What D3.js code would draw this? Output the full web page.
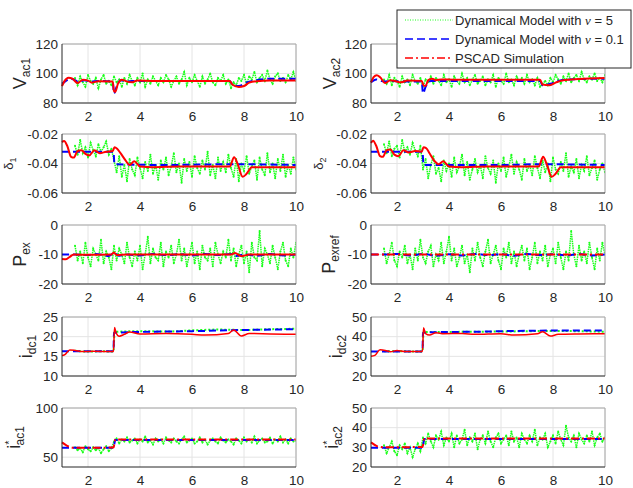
<!DOCTYPE html>
<html lang="en">
<head>
<meta charset="UTF-8">
<title>Dynamical model vs PSCAD</title>
<script src="https://d3js.org/d3.v7.min.js"></script>
<style>
  body { margin: 0; background: #fff; }
  svg { display: block; font-family: "Liberation Sans", Arial, sans-serif; }
  .tick text { font-size: 13.5px; fill: #262626; }
  .grid line { stroke: #e4e4e4; stroke-width: 1; }
</style>
</head>
<body>
<svg width="633" height="488"></svg>
<script>
// time grid of the noisy (nu = 5) model output, 1.5 s .. 10 s
const tGreen = d3.range(15, 101).map(i => i / 10);

// ---- V_ac1 ----
const vac1Green = [97,92,98,94,91,99,95,93,97,90,96,99,93,95,92,98,94,96,91,97,
  93,99,95,92,97,94,100,91,96,93,98,95,92,97,94,99,96,91,95,98,
  93,96,101,92,97,94,99,95,91,98,93,96,100,94,92,97,95,99,93,96,
  90,94,92,97,95,99,93,98,96,101,94,97,99,95,102,96,93,98,100,95,
  97,94,99,96,101,95];
const vac1Blue = [[1,93],[1.15,95],[1.3,96.5],[1.5,95.5],[1.65,94],[1.85,95.5],[2.1,94.5],[2.4,95],[2.95,94.5],
  [3.0,86.5],[3.1,91],[3.25,95.5],[3.5,94.5],[3.7,95],[4,95],[7.45,95],[7.55,92.5],[7.8,91.5],[8.1,94],
  [8.5,95.5],[9,96.5],[10,96.5]];
const vac1Red = [[1,91.5],[1.1,95],[1.25,97.2],[1.4,96.5],[1.6,93.5],[1.8,95.8],[2.0,95.2],[2.15,93.8],[2.4,94.8],
  [2.95,94.5],[3.0,88],[3.05,87.5],[3.15,93],[3.3,95.8],[3.5,94.5],[3.7,94],[3.9,95.2],[4.5,95],[7.45,95],
  [7.55,92.5],[7.8,90.8],[8.0,91.5],[8.2,93.8],[8.5,94.8],[9,95.2],[10,95.3]];

// ---- V_ac2 ----
const vac2Green = [96,93,99,92,97,95,91,98,94,96,92,99,95,93,97,91,96,94,98,93,
  97,95,92,99,94,96,91,98,95,93,100,94,97,92,96,99,93,95,98,92,
  96,94,99,91,97,95,93,100,94,96,92,98,95,97,93,99,94,96,92,97,
  91,93,95,92,97,94,99,96,93,98,95,100,94,97,99,95,101,96,94,98,
  96,100,95,97,94,99];
const vac2Blue = [[1,94],[1.2,96],[1.5,94.5],[1.8,95],[2.2,94.5],[2.95,94.5],[3.0,86.5],[3.1,91],[3.3,95],
  [3.6,95],[7.5,95],[7.6,92],[7.9,93],[8.2,95],[8.6,96],[10,96.5]];
const vac2Red = [[1,94],[1.1,97.5],[1.22,98.8],[1.35,97.5],[1.55,93.5],[1.75,95.5],[1.95,94.8],[2.15,94],
  [2.4,95.2],[2.95,95],[3.02,92],[3.1,91.5],[3.2,95.5],[3.35,96.5],[3.5,95.5],[3.7,96],[4.2,95.8],[7.5,95.8],
  [7.6,92.5],[7.85,92],[8.1,93.8],[8.4,95.5],[9,96.3],[10,97]];

// ---- delta_1 ----
const d1Green = [-0.028,-0.034,-0.024,-0.033,-0.029,-0.036,-0.026,-0.031,-0.035,-0.027,-0.032,-0.029,-0.025,-0.034,-0.030,
  -0.038,-0.046,-0.035,-0.049,-0.041,-0.052,-0.037,-0.044,-0.048,-0.036,-0.043,-0.050,-0.039,-0.045,-0.034,
  -0.047,-0.041,-0.051,-0.038,-0.044,-0.036,-0.048,-0.042,-0.033,-0.046,-0.040,-0.053,-0.037,-0.045,-0.039,
  -0.049,-0.035,-0.043,-0.047,-0.038,-0.044,-0.032,-0.048,-0.041,-0.050,-0.036,-0.045,-0.039,-0.046,-0.034,
  -0.043,-0.049,-0.037,-0.052,-0.040,-0.045,-0.035,-0.047,-0.042,-0.038,-0.051,-0.036,-0.044,-0.048,-0.033,
  -0.046,-0.040,-0.050,-0.037,-0.045,-0.034,-0.049,-0.041,-0.047,-0.036,-0.044];
const d1Blue = [[1,-0.032],[2.98,-0.032],[3.02,-0.0405],[5,-0.041],[7.5,-0.0405],[10,-0.041]];
const d1Red = [[1,-0.0255],[1.08,-0.0248],[1.2,-0.028],[1.35,-0.0355],[1.45,-0.036],[1.6,-0.0315],[1.75,-0.031],
  [1.9,-0.0335],[2.05,-0.0345],[2.25,-0.031],[2.45,-0.033],[2.7,-0.032],[2.95,-0.0315],[3.02,-0.029],[3.12,-0.030],
  [3.25,-0.033],[3.45,-0.038],[3.6,-0.041],[3.78,-0.0385],[4.0,-0.042],[4.5,-0.0425],[5.5,-0.042],[7.45,-0.042],
  [7.62,-0.0358],[7.75,-0.040],[7.95,-0.049],[8.1,-0.047],[8.3,-0.0425],[9,-0.0425],[10,-0.0425]];

// ---- delta_2 ----
const d2Green = [-0.027,-0.033,-0.025,-0.035,-0.030,-0.028,-0.036,-0.024,-0.032,-0.029,-0.034,-0.026,-0.031,-0.035,-0.028,
  -0.044,-0.037,-0.050,-0.041,-0.035,-0.047,-0.043,-0.052,-0.038,-0.045,-0.040,-0.049,-0.036,-0.046,-0.042,
  -0.034,-0.048,-0.039,-0.051,-0.044,-0.037,-0.046,-0.041,-0.050,-0.035,-0.043,-0.047,-0.038,-0.053,-0.040,
  -0.045,-0.036,-0.049,-0.042,-0.034,-0.047,-0.039,-0.044,-0.051,-0.037,-0.045,-0.041,-0.048,-0.035,-0.043,
  -0.050,-0.038,-0.046,-0.040,-0.052,-0.036,-0.044,-0.047,-0.039,-0.045,-0.033,-0.049,-0.042,-0.046,-0.037,
  -0.050,-0.041,-0.045,-0.035,-0.048,-0.043,-0.038,-0.051,-0.044,-0.040,-0.046];
const d2Blue = [[1,-0.032],[2.98,-0.032],[3.02,-0.041],[6,-0.041],[7.5,-0.0405],[10,-0.041]];
const d2Red = [[1,-0.026],[1.08,-0.0245],[1.2,-0.028],[1.35,-0.035],[1.45,-0.0355],[1.6,-0.031],[1.75,-0.0305],
  [1.9,-0.034],[2.05,-0.035],[2.25,-0.031],[2.45,-0.0325],[2.7,-0.0315],[2.95,-0.032],[3.02,-0.029],[3.12,-0.0295],
  [3.25,-0.033],[3.45,-0.0385],[3.6,-0.0405],[3.78,-0.0385],[4.0,-0.042],[4.5,-0.0425],[5.5,-0.042],[7.45,-0.042],
  [7.62,-0.0355],[7.75,-0.040],[7.95,-0.049],[8.1,-0.047],[8.3,-0.0425],[9,-0.0425],[10,-0.0425]];

// ---- P_ex ----
const pexGreen = [-7,-12,-9,-13,-6,-11,-14,-8,-10,-12,-5,-13,-9,-11,-15,-7,-12,-8,-10,-13,
  -6,-11,-14,-9,-12,-7,-15,-10,-4,-13,-8,-11,-12,-6,-14,-9,-11,-7,-13,-10,
  -5,-12,-8,-14,-10,-6,-13,-9,-15,-7,-11,-12,-8,-14,-6,-10,-13,-9,-11,-5,
  -12,-8,-14,-10,-7,-13,-9,-16,-6,-11,-12,-2,-14,-8,-10,-13,-7,-11,-15,-9,
  -6,-12,-14,-8,-11,-6];
const pexBlue = [[1,-10],[1.5,-10],[2,-10.2],[2.3,-9.8],[2.8,-10.5],[3.0,-9.5],[3.2,-10.4],[3.5,-10],[4,-10.3],
  [4.5,-9.8],[5,-10.2],[5.5,-9.9],[6,-10.3],[6.5,-9.8],[7,-10.2],[7.5,-9.8],[7.7,-10.5],[8,-10],[8.5,-10.4],
  [9,-9.8],[9.5,-10.3],[10,-10]];
const pexRed = [[1,-11.5],[1.15,-11.6],[1.3,-10.8],[1.45,-10],[2,-10.1],[2.9,-10],[3.0,-9.3],[3.1,-10.2],[3.5,-10],
  [7.5,-10],[7.65,-9.5],[7.9,-10.6],[8.2,-10],[10,-10]];

// ---- P_exref ----
const pexrefGreen = [-8,-13,-10,-6,-12,-14,-9,-11,-7,-13,-10,-15,-8,-12,-5,-11,-13,-9,-7,-14,
  -10,-12,-6,-13,-9,-4,-12,-8,-14,-11,-7,-13,-10,-16,-8,-12,-6,-11,-14,-9,
  -5,-13,-10,-7,-12,-15,-8,-11,-6,-13,-9,-14,-10,-7,-12,-8,-15,-11,-6,-13,
  -9,-12,-7,-14,-10,-8,-13,-6,-11,-15,-9,-12,-2,-10,-14,-7,-12,-9,-13,-6,
  -11,-15,-8,-12,-6,-10];
const pexrefBlue = [[1,-10],[1.5,-10],[2,-9.8],[2.5,-10.3],[3,-9.8],[3.5,-10.4],[4,-9.9],[4.5,-10.3],[5,-9.8],
  [5.5,-10.2],[6,-9.9],[6.5,-10.4],[7,-9.8],[7.5,-10.2],[8,-9.9],[8.5,-10.3],[9,-9.8],[9.5,-10.3],[10,-10]];
const pexrefRed = [[1,-10],[10,-10]];

// ---- i_dc1 ----
const idc1Green = [[1.5,16.4],[2,16.2],[2.5,16.3],[2.98,16.2],[3.02,21.2],[4,21.4],[5,21.3],[6,21.6],[7,21.8],
  [8,21.7],[9,21.9],[10,22.0]];
const idc1Blue = [[1,16.3],[2.98,16.3],[3.0,21.0],[4,21.2],[6,21.4],[8,21.7],[10,21.9]];
const idc1Red = [[1,15.2],[1.1,15.4],[1.3,16.6],[1.5,16.5],[1.8,16.2],[2.2,16.3],[2.98,16.2],[3.02,22.3],[3.08,21],
  [3.2,20.1],[3.4,20.6],[3.6,21.2],[4,20.7],[5,20.8],[6,20.6],[6.5,20.4],[7.4,20.8],[7.6,21.7],[7.9,20.2],
  [8.2,20.8],[9,20.7],[10,20.6]];

// ---- i_dc2 ----
const idc2Green = [[1.5,32.6],[2.98,32.5],[3.02,42.3],[4,42.4],[6,42.6],[8,42.9],[10,42.5]];
const idc2Blue = [[1,32.5],[2.98,32.5],[3.0,42],[3.5,42.3],[5,42.5],[7,43],[10,43.2]];
const idc2Red = [[1,30],[1.15,30.5],[1.35,33.3],[1.55,33],[1.75,32.3],[2.0,33],[2.3,32.5],[2.98,32.5],[3.02,44.5],
  [3.1,41.5],[3.25,40.8],[3.5,42],[3.8,41.5],[4.5,41.6],[5,41.2],[6,41.5],[6.5,40.8],[7.4,41.5],[7.6,42.5],
  [7.9,40.3],[8.2,41.2],[9,41.4],[10,41.5]];

// ---- i*_ac1 ----
const iac1Green = [60,57,59,55,61,58,56,60,57,59,54,58,61,56,59,
  66,69,64,68,66,70,65,67,69,64,68,66,71,65,67,
  63,69,66,68,64,70,67,65,69,66,64,68,71,65,67,
  69,64,66,70,65,68,63,67,69,66,64,70,67,65,68,
  66,63,69,67,64,70,66,68,65,71,64,67,69,65,66,
  70,64,68,66,71,65,68,64,69,66,67];
const iac1Blue = [[1,59.5],[2.98,59.5],[3.05,67.5],[10,67.5]];
const iac1Red = [[1,65],[1.2,61.5],[1.5,59.5],[2.98,59.8],[3.05,68],[10,68]];

// ---- i*_ac2 ----
const iac2Green = [31,27,30,33,28,26,31,29,32,27,30,25,29,32,28,
  35,32,37,33,30,36,34,38,31,35,33,37,30,36,32,
  34,39,31,35,33,37,29,34,36,32,38,33,30,35,37,
  32,34,36,31,38,33,35,30,37,34,32,36,33,39,31,
  35,34,37,30,33,36,32,38,34,31,41,35,33,36,30,
  37,34,32,36,33,38,31,35,37,33,35];
const iac2Blue = [[1,29.8],[2.98,29.8],[3.05,34.3],[10,34.3]];
const iac2Red = [[1,32.5],[1.25,30.5],[1.5,30],[2.98,30.2],[3.05,34.5],[10,34.5]];

const xTicks = [2, 4, 6, 8, 10];
const legendLabels = ["Dynamical Model with ", "Dynamical Model with ", "PSCAD Simulation"];
const legendNu = ["5", "0.1", null];

// panel table: [col,row] with label parts (main, sup, sub)
const panels = [
  {col: 0, row: 0, main: "V", sub: "ac1", lx: 26, fs: 18, domain: [80, 120], ticks: [80, 100, 120], green: vac1Green, blue: vac1Blue, red: vac1Red},
  {col: 1, row: 0, main: "V", sub: "ac2", lx: 336, fs: 18, domain: [80, 120], ticks: [80, 100, 120], green: vac2Green, blue: vac2Blue, red: vac2Red},
  {col: 0, row: 1, main: "\u03b4", sub: "1", lx: 13, fs: 13, domain: [-0.06, -0.02], ticks: [-0.06, -0.04, -0.02], green: d1Green, blue: d1Blue, red: d1Red},
  {col: 1, row: 1, main: "\u03b4", sub: "2", lx: 323, fs: 13, domain: [-0.06, -0.02], ticks: [-0.06, -0.04, -0.02], green: d2Green, blue: d2Blue, red: d2Red},
  {col: 0, row: 2, main: "P", sub: "ex", lx: 26, fs: 18, domain: [-20, 0], ticks: [-20, -10, 0], green: pexGreen, blue: pexBlue, red: pexRed},
  {col: 1, row: 2, main: "P", sub: "exref", lx: 335, fs: 18, domain: [-20, 0], ticks: [-20, -10, 0], green: pexrefGreen, blue: pexrefBlue, red: pexrefRed, redDash: true},
  {col: 0, row: 3, main: "i", sub: "dc1", lx: 32, fs: 18, domain: [10, 25], ticks: [10, 15, 20, 25], green: idc1Green, blue: idc1Blue, red: idc1Red, thin: true},
  {col: 1, row: 3, main: "i", sub: "dc2", lx: 342, fs: 18, domain: [20, 50], ticks: [20, 30, 40, 50], green: idc2Green, blue: idc2Blue, red: idc2Red, thin: true},
  {col: 0, row: 4, main: "i", sup: "*", sub: "ac1", lx: 20, fs: 18, domain: [40, 100], ticks: [50, 100], green: iac1Green, blue: iac1Blue, red: iac1Red, redDash: true},
  {col: 1, row: 4, main: "i", sup: "*", sub: "ac2", lx: 338, fs: 18, domain: [20, 50], ticks: [20, 30, 40, 50], green: iac2Green, blue: iac2Blue, red: iac2Red, redDash: true}
];

const colX = [62, 371];
const rowY = [44, 134, 225, 317, 408];
const plotW = 234, plotH = 59;

const svg = d3.select("svg");
const x = d3.scaleLinear().domain([1, 10]).range([0, plotW]);

panels.forEach((p, i) => {
  const g = svg.append("g").attr("transform", `translate(${colX[p.col]},${rowY[p.row]})`);
  const y = d3.scaleLinear().domain(p.domain).range([plotH, 0]);

  g.append("rect").attr("width", plotW).attr("height", plotH).attr("fill", "#fff");

  // grid
  const grid = g.append("g").attr("class", "grid");
  grid.selectAll(".gx").data(xTicks).join("line")
    .attr("x1", d => x(d)).attr("x2", d => x(d)).attr("y1", 0).attr("y2", plotH);
  grid.selectAll(".gy").data(p.ticks).join("line")
    .attr("x1", 0).attr("x2", plotW).attr("y1", d => y(d)).attr("y2", d => y(d));

  g.append("clipPath").attr("id", "clip" + i)
    .append("rect").attr("x", -3).attr("y", 0).attr("width", plotW + 3).attr("height", plotH);
  const plot = g.append("g").attr("clip-path", `url(#clip${i})`);

  const knotLine = d3.line().x(d => x(d[0])).y(d => y(d[1])).curve(d3.curveMonotoneX);
  const noisy = typeof p.green[0] === "number";
  const greenPts = noisy ? tGreen.map((t, k) => [t, p.green[k]]) : p.green;
  const greenLine = noisy ? d3.line().x(d => x(d[0])).y(d => y(d[1])) : knotLine;

  plot.append("path").attr("d", greenLine(greenPts))
    .attr("fill", "none").attr("stroke", "#1aff1a")
    .attr("stroke-width", p.thin ? 2 : 1.5).attr("stroke-dasharray", p.thin ? "2,2" : "1.5,0.8");
  if (noisy) {
    plot.append("g").selectAll("circle").data(greenPts).join("circle")
      .attr("cx", d => x(d[0])).attr("cy", d => y(d[1])).attr("r", 1)
      .attr("fill", "#1aff1a");
  }
  plot.append("path").attr("d", knotLine(p.blue))
    .attr("fill", "none").attr("stroke", "#0000ff")
    .attr("stroke-width", 2).attr("stroke-dasharray", "7,4");
  plot.append("path").attr("d", knotLine(p.red))
    .attr("fill", "none").attr("stroke", "#ff0000")
    .attr("stroke-width", p.thin ? 1.5 : 2)
    .attr("stroke-dasharray", p.redDash ? "8,3,2,3" : null);

  // axes
  g.append("g").attr("transform", `translate(0,${plotH})`)
    .call(d3.axisBottom(x).tickValues(xTicks).tickSize(0).tickPadding(8).tickFormat(d3.format("d")))
    .call(a => a.select(".domain").remove());
  g.append("g")
    .call(d3.axisLeft(y).tickValues(p.ticks).tickSize(0).tickPadding(4).tickFormat(d => String(+d.toFixed(2))))
    .call(a => a.select(".domain").remove());

  // box
  g.append("path").attr("d", `M0,0H${plotW}V${plotH}`).attr("fill", "none").attr("stroke", "#a8a8a8");
  g.append("path").attr("d", `M0,0V${plotH}H${plotW}`).attr("fill", "none").attr("stroke", "#262626");

  // y label
  const lbl = svg.append("text")
    .attr("transform", `translate(${p.lx},${rowY[p.row] + plotH / 2}) rotate(-90)`)
    .attr("text-anchor", "middle").attr("fill", "#262626");
  lbl.append("tspan").attr("font-size", p.fs).text(p.main);
  if (p.sup) {
    lbl.append("tspan").attr("font-size", 11).attr("dy", -7).text(p.sup);
    lbl.append("tspan").attr("font-size", 12).attr("dx", -5).attr("dy", 11).text(p.sub);
  } else {
    lbl.append("tspan").attr("font-size", p.fs > 14 ? 12 : 9).attr("dy", p.fs > 14 ? 4 : 3).text(p.sub);
  }
});

// legend
const leg = svg.append("g").attr("transform", "translate(397,10)");
leg.append("rect").attr("width", 234).attr("height", 58)
  .attr("fill", "#fff").attr("stroke", "#262626").attr("stroke-width", 1);
const legStyles = [
  {stroke: "#1aff1a", w: 1, dash: "1,1.5"},
  {stroke: "#0000ff", w: 1.5, dash: "8,4"},
  {stroke: "#ff0000", w: 1.5, dash: "8,3,2,3"}
];
legendLabels.forEach((txt, i) => {
  const cy = 10 + i * 19;
  leg.append("line").attr("x1", 8).attr("x2", 56).attr("y1", cy).attr("y2", cy)
    .attr("stroke", legStyles[i].stroke).attr("stroke-width", legStyles[i].w)
    .attr("stroke-dasharray", legStyles[i].dash);
  const t = leg.append("text").attr("x", 58).attr("y", cy).attr("dy", "0.35em")
    .attr("font-size", 13).attr("fill", "#262626").text(txt);
  if (legendNu[i]) {
    t.append("tspan").attr("font-family", "'Liberation Serif', serif").attr("font-style", "italic").text("\u03bd");
    t.append("tspan").text(" = " + legendNu[i]);
  }
});
</script>
</body>
</html>
